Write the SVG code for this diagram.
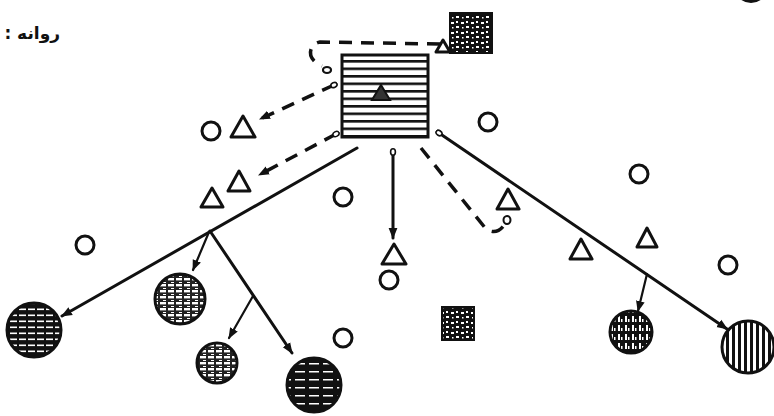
<svg xmlns="http://www.w3.org/2000/svg" width="774" height="416" viewBox="0 0 774 416">
<style>
.ln{fill:none;stroke:#111;stroke-width:3;stroke-linecap:round}
.thin{fill:none;stroke:#111;stroke-width:2.2;stroke-linecap:round}
.dash{fill:none;stroke:#111;stroke-width:3.5;stroke-dasharray:13 9;stroke-linecap:butt}
.oc{fill:#fff;stroke:#111;stroke-width:3}
.tri{fill:#fff;stroke:#111;stroke-width:3;stroke-linejoin:round}
.big{stroke:#111;stroke-width:3}
.lbl{font-family:"DejaVu Sans","Noto Sans",sans-serif;font-size:17px;font-weight:bold;fill:#111}
</style>
<defs>
<pattern id="hs" width="10" height="7.5" patternUnits="userSpaceOnUse"><rect width="10" height="7.5" fill="#fff"/><rect y="0" width="10" height="2.6" fill="#111"/></pattern>
<pattern id="hsd" width="9" height="6" patternUnits="userSpaceOnUse"><rect width="9" height="6" fill="#111"/><rect x="1" y="2.5" width="7" height="1.6" fill="#fff"/></pattern>
<pattern id="hsw" width="8" height="6" patternUnits="userSpaceOnUse"><rect width="8" height="6" fill="#222"/><rect x="0" y="2" width="6" height="2.4" fill="#fff"/><rect x="3" y="0" width="3" height="1" fill="#fff"/></pattern>
<pattern id="dk" width="14" height="8" patternUnits="userSpaceOnUse"><rect width="14" height="8" fill="#111"/><rect x="1" y="3" width="10" height="1.5" fill="#fff"/></pattern>
<pattern id="vs" width="6" height="10" patternUnits="userSpaceOnUse"><rect width="6" height="10" fill="#fff"/><rect width="3" height="10" fill="#111"/></pattern>
<pattern id="vn" width="7" height="9" patternUnits="userSpaceOnUse"><rect width="7" height="9" fill="#111"/><rect x="2" y="1" width="2" height="6" fill="#fff"/><rect x="5" y="4" width="1.5" height="3" fill="#fff"/></pattern>
<pattern id="ck" width="10" height="10" patternUnits="userSpaceOnUse"><rect width="10" height="10" fill="#111"/><rect x="1" y="2" width="3" height="2" fill="#fff"/><rect x="6" y="6" width="3" height="2" fill="#fff"/><rect x="6" y="1" width="2" height="2" fill="#fff"/><rect x="2" y="7" width="1.5" height="1.5" fill="#fff"/></pattern>
<marker id="ah" viewBox="0 0 10 10" refX="9" refY="5" markerWidth="11" markerHeight="11" markerUnits="userSpaceOnUse" orient="auto"><path d="M0,1 L10,5 L0,9 z" fill="#111"/></marker>
<marker id="tl" viewBox="0 0 10 10" refX="5" refY="5" markerWidth="8" markerHeight="8" markerUnits="userSpaceOnUse" orient="auto"><ellipse cx="5" cy="5" rx="4" ry="3" fill="#fff" stroke="#111" stroke-width="2"/></marker>
</defs>
<rect width="774" height="416" fill="#fff"/>
<text class="lbl" x="60" y="39" direction="rtl">روانه :</text>
<ellipse cx="751" cy="-12" rx="16" ry="15" fill="#111"/>
<g id="connectors">
<path class="dash" d="M440,44 L320,42 C308,44 306,60 322,66"/>
<ellipse cx="327" cy="70" rx="4" ry="3" fill="#fff" stroke="#111" stroke-width="2.2"/>
<path class="dash" d="M334,85 L260,119" marker-end="url(#ah)" marker-start="url(#tl)"/>
<path class="dash" d="M336,134 L259,175" marker-end="url(#ah)" marker-start="url(#tl)"/>
<path class="ln" d="M357,148 L62,316" marker-end="url(#ah)"/>
<path class="thin" d="M209,232 L193,270" marker-end="url(#ah)"/>
<path class="ln" d="M210,231 L292,353" marker-end="url(#ah)"/>
<path class="thin" d="M253,296 L229,338" marker-end="url(#ah)"/>
<path class="ln" d="M393,152 L393,238" marker-end="url(#ah)" marker-start="url(#tl)"/>
<path class="dash" d="M421,148 L486,229 Q497,236 505,224"/>
<ellipse cx="507" cy="220" rx="3.5" ry="4" fill="#fff" stroke="#111" stroke-width="2"/>
<path class="ln" d="M439,133 L727,329" marker-end="url(#ah)" marker-start="url(#tl)"/>
<path class="thin" d="M647,274 L638,311" marker-end="url(#ah)"/>
</g>
<g id="sq_main"><rect x="342" y="55" width="86" height="82" fill="url(#hs)" class="big"/><path d="M381,85 L390,100 L372,100 z" fill="#333" stroke="#111" stroke-width="2"/></g>
<g id="sq_top"><rect x="450" y="13" width="42" height="40" fill="url(#ck)" stroke="#111" stroke-width="2"/><path class="tri" d="M443,40 L450,52 L436,52 z"/></g>
<g id="sq_bottom"><rect x="442" y="307" width="32" height="33" fill="url(#ck)" stroke="#111" stroke-width="2"/></g>
<g id="c_left"><circle cx="34" cy="330" r="27" fill="url(#hsd)" class="big"/></g>
<g id="c_mid"><circle cx="180" cy="299" r="25" fill="url(#hsw)" class="big"/></g>
<g id="c_small"><circle cx="217" cy="363" r="20" fill="url(#hsw)" class="big"/></g>
<g id="c_dark"><circle cx="314" cy="385" r="27" fill="url(#dk)" class="big"/></g>
<g id="c_right1"><circle cx="631" cy="332" r="21" fill="url(#vn)" class="big"/></g>
<g id="c_right2"><circle cx="748" cy="347" r="26" fill="url(#vs)" class="big"/></g>
<g id="o1"><circle class="oc" cx="211" cy="131" r="9"/></g>
<g id="o2"><circle class="oc" cx="85" cy="245" r="9"/></g>
<g id="o3"><circle class="oc" cx="343" cy="197" r="9"/></g>
<g id="o4"><circle class="oc" cx="343" cy="338" r="9"/></g>
<g id="o5"><circle class="oc" cx="389" cy="280" r="9"/></g>
<g id="o6"><circle class="oc" cx="488" cy="122" r="9"/></g>
<g id="o7"><circle class="oc" cx="639" cy="174" r="9"/></g>
<g id="o8"><circle class="oc" cx="728" cy="265" r="9"/></g>
<g id="t1"><path class="tri" d="M243,116 L255,137 L231,137 z"/></g>
<g id="t2"><path class="tri" d="M239,171 L250,191 L228,191 z"/></g>
<g id="t3"><path class="tri" d="M212,188 L223,207 L201,207 z"/></g>
<g id="t4"><path class="tri" d="M394,244 L406,264 L382,264 z"/></g>
<g id="t5"><path class="tri" d="M508,189 L519,209 L497,209 z"/></g>
<g id="t6"><path class="tri" d="M581,239 L592,259 L570,259 z"/></g>
<g id="t7"><path class="tri" d="M647,228 L657,247 L637,247 z"/></g>
</svg>
